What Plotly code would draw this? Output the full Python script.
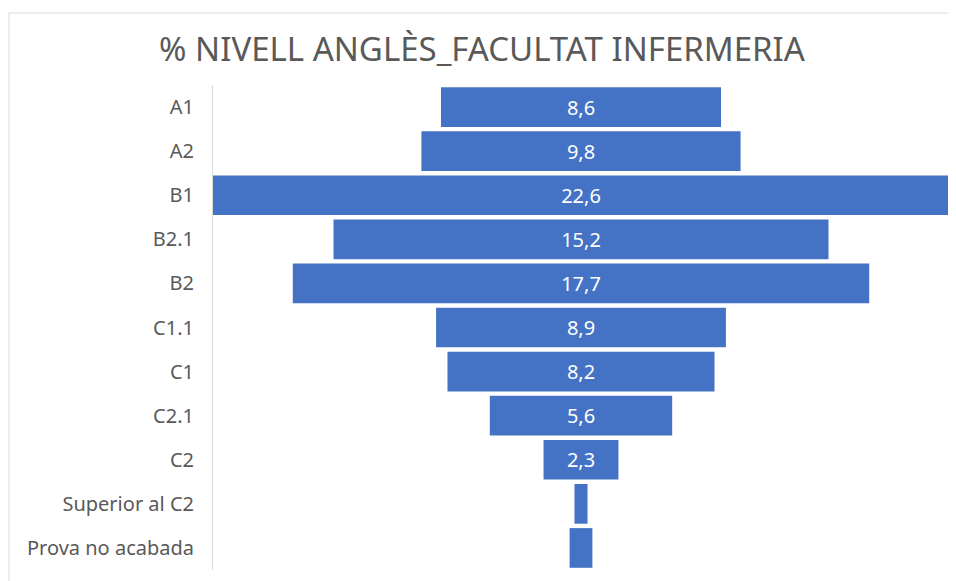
import plotly.graph_objects as go

# Data
levels = ['A1', 'A2', 'B1', 'B2.1', 'B2', 'C1.1', 'C1', 'C2.1', 'C2',
          'Superior al C2', 'Prova no acabada']
percent = [8.6, 9.8, 22.6, 15.2, 17.7, 8.9, 8.2, 5.6, 2.3, 0.4, 0.7]

# Labels with decimal comma; tiny bars get no label (as in the original)
labels = [f'{v:.1f}'.replace('.', ',') if v >= 1 else '' for v in percent]

# the page body adds an 8px offset, so the figure is 8px smaller
W, H = 948, 573
left, right, top, bottom = 205, 7, 77, 11

fig = go.Figure()

fig.add_trace(go.Funnel(
    y=levels,
    x=percent,
    text=labels,
    textinfo='text',
    textposition='inside',
    insidetextanchor='middle',
    textfont=dict(color='white', size=20, family='Noto Sans'),
    marker=dict(color='#4472C4', line=dict(width=0)),
    connector=dict(visible=False),
    hoverinfo='y+x',
))

half = max(percent) / 2
fig.update_layout(
    width=W, height=H,
    margin=dict(l=left, r=right, t=top, b=bottom),
    title=dict(
        text='% NIVELL ANGLÈS_FACULTAT INFERMERIA',
        x=0.5, xanchor='center', y=1 - 41 / H, yanchor='middle',
        font=dict(color='#595959', size=33, family='Noto Sans'),
    ),
    xaxis=dict(visible=False, range=[-half, half], fixedrange=True),
    yaxis=dict(
        categoryorder='array', categoryarray=levels,
        autorange='reversed', automargin=False,
        showgrid=False, zeroline=False,
        showline=True, linecolor='#d9d9d9', linewidth=1,
        ticks='', ticklabelstandoff=14,
        tickfont=dict(color='#595959', size=20, family='Noto Sans'),
    ),
    funnelgap=0.1,
    plot_bgcolor='white',
    paper_bgcolor='white',
    showlegend=False,
)

# light gray chart frame (top and left edges visible in the reference)
pw = W - left - right
ph = H - top - bottom
x0 = (1 - left) / pw
y_top = 1 + (top - 5) / ph
fig.add_shape(type='line', xref='paper', yref='paper',
              x0=x0, x1=(W - left) / pw, y0=y_top, y1=y_top,
              line=dict(color='#d9d9d9', width=1))
fig.add_shape(type='line', xref='paper', yref='paper',
              x0=x0, x1=x0, y0=y_top, y1=-bottom / ph,
              line=dict(color='#d9d9d9', width=1))

fig.write_html('out.html')
